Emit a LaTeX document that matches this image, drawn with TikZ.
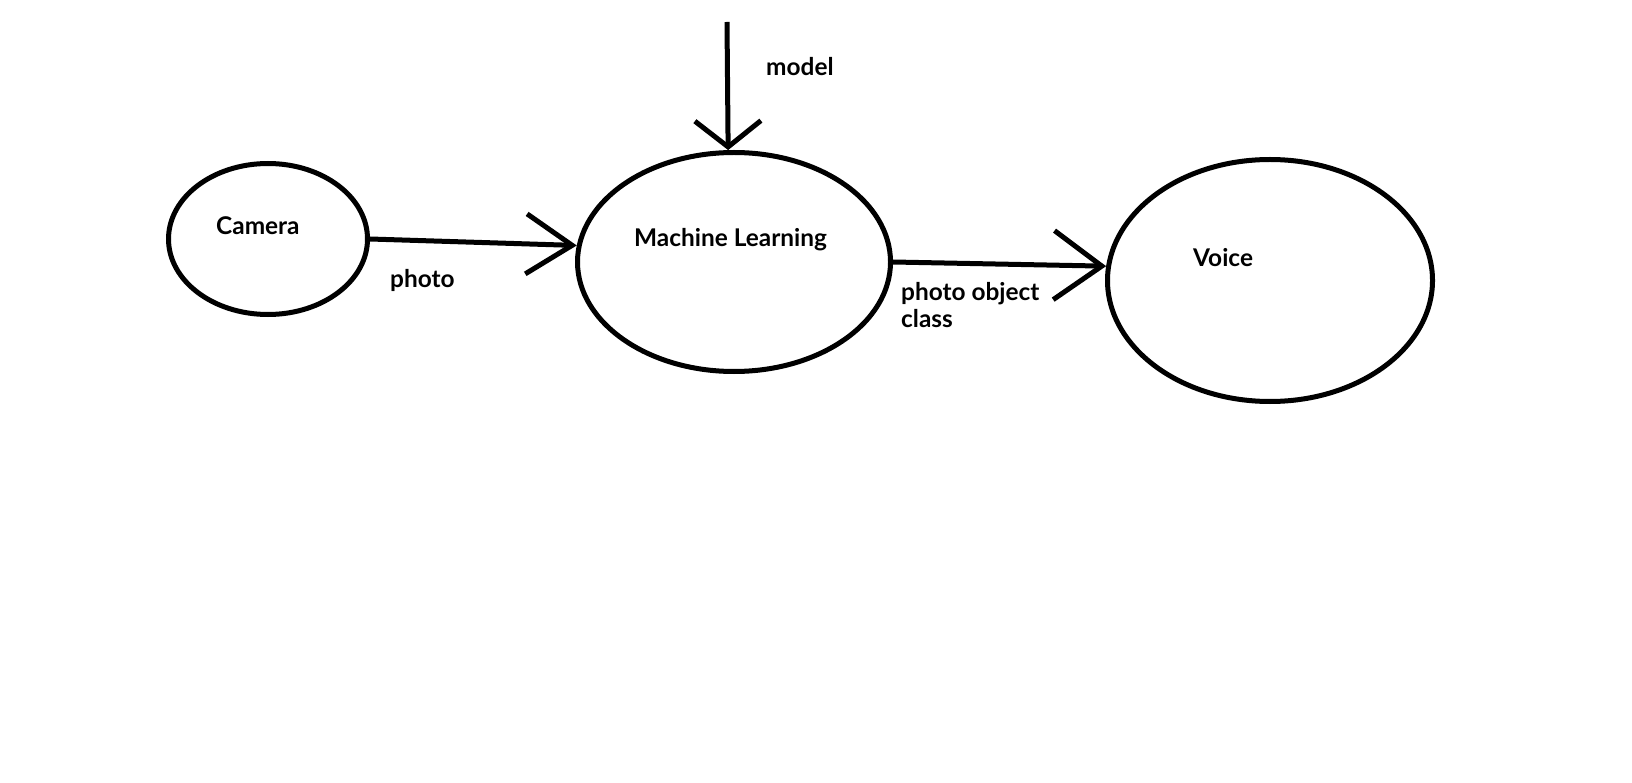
\documentclass[tikz,border=0pt]{standalone}
\usepackage{fontspec}
\setmainfont{Lato}
\usetikzlibrary{shapes.geometric,arrows.meta}
\tikzset{
  bubble/.style={draw, ellipse, line width=5pt, inner sep=0pt},
  lbl/.style={font=\bfseries\fontsize{24.4}{28}\selectfont, anchor=base west, inner sep=0pt, align=left},
  conn/.style={line width=5pt},
}
\begin{document}
\begin{tikzpicture}[x=1pt,y=-1pt]
\useasboundingbox (0,0) rectangle (1632,783);
\node[bubble, minimum width=199pt, minimum height=151pt] (cam) at (268,239) {};
\node[bubble, minimum width=313pt, minimum height=219pt] (ml) at (734,262) {};
\node[bubble, minimum width=325pt, minimum height=242pt] (voice) at (1270,280.5) {};
\coordinate (modelsrc) at (727,22);

\node[lbl] (tcam) at (216,235) {Camera};
\node[lbl] (tml) at (634,247) {Machine Learning};
\node[lbl] (tvoice) at (1193,267) {Voice};
\node[lbl] (tphoto) at (390,288) {photo};
\node[lbl] (tmodel) at (766,76) {model};
\node[lbl] (tclass) at (901,328) {photo object\\class};

\draw[conn, -{Straight Barb[length=46pt,width=60pt]}] (cam.east) -- (ml.174);
\draw[conn, -{Straight Barb[length=26pt,width=66pt]}] (modelsrc) -- (ml.93);
\draw[conn, -{Straight Barb[length=48pt,width=69pt]}] (ml.east) -- (voice.175);
\end{tikzpicture}
\end{document}
